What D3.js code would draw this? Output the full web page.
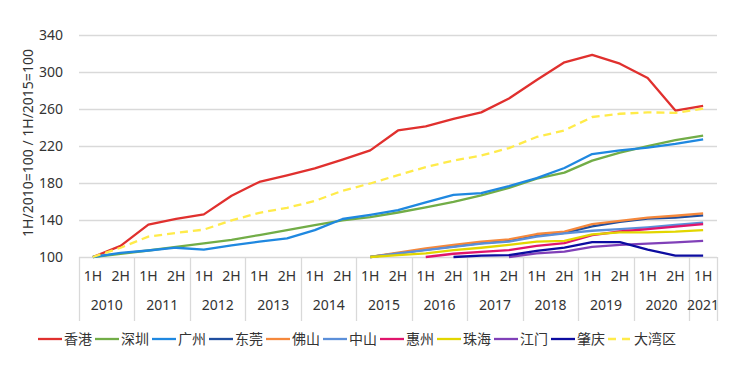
<!DOCTYPE html>
<html>
<head>
<meta charset="utf-8">
<script src="https://cdn.jsdelivr.net/npm/d3@7"></script>
<style>
  body { margin: 0; background: #fff; }
  text { font-family: "Noto Sans", "Noto Sans CJK SC", sans-serif; fill: #333; }
</style>
</head>
<body>
<div id="chart"></div>
<script>
// Data
//=================================
var years = ["2010","2011","2012","2013","2014","2015","2016","2017","2018","2019","2020","2021"];
var halves = [];
years.forEach(function(y){ halves.push(y + "-1H"); if (y !== "2021") halves.push(y + "-2H"); });

var seriesNames = ["香港","深圳","广州","东莞","佛山","中山","惠州","珠海","江门","肇庆","大湾区"];
var seriesColors = ["#e0302e","#72ad47","#1f88e0","#1f4e9f","#f5883c","#5b8fd9","#e0156c","#e2d600","#8040b8","#0c0ca0","#ffeb4a"];

var n = null;
var hongkong = [100,112,135,141,146,166,181,188,195.5,205,215,236.5,241,249,256,271,291,310,318,308.5,293,258,263];
var shenzhen = [100,103.5,107,111,114.7,118.5,123.7,129,134.5,139.5,143,148,153.5,159.5,166.5,174.5,184.5,191,204,212.5,219.5,226,231];
var guangzhou = [100,104.5,107,110,108,112.5,116.5,120,129,141,145.5,150.5,159,167,169,176.5,185,196,211,215,218,222,227];
var dongguan = [n,n,n,n,n,n,n,n,n,n,100,104,108,111.5,115,117.5,123,126,133,138,141.5,142.5,145];
var foshan = [n,n,n,n,n,n,n,n,n,n,100,104.7,109.3,113,116.5,119,124.8,127.3,135.5,139,142.5,144.5,147];
var zhongshan = [n,n,n,n,n,n,n,n,n,n,100,104,107.5,111,114.5,116.5,122,125.5,128.3,130,132,134.5,137];
var huizhou = [n,n,n,n,n,n,n,n,n,n,n,n,100,103.5,105.5,107.5,112,115,123.5,127.5,130,132.7,135.5];
var zhuhai = [n,n,n,n,n,n,n,n,n,n,100,102,104,107.5,110,113,116.5,117.5,124.5,126.5,126.5,127.3,129];
var jiangmen = [n,n,n,n,n,n,n,n,n,n,n,n,n,n,n,100,104,105.7,111,113,114.5,115.8,117.5];
var zhaoqing = [n,n,n,n,n,n,n,n,n,n,n,n,n,100,101.5,102,106.5,110,116,116,108,101.5,101.5];
var bayArea = [100,110,122,126,129.5,139.5,147.7,153,160.5,171.5,179.3,188.3,197,204,209.5,217.5,229.5,236.5,251,254.5,256,255.5,260];

var allSeries = [hongkong,shenzhen,guangzhou,dongguan,foshan,zhongshan,huizhou,zhuhai,jiangmen,zhaoqing,bayArea];
var yTicks = [100,140,180,220,260,300,340];

// Set up the chart
//=================================
var svgWidth = 740;
var svgHeight = 375;

var svg = d3.select("#chart")
  .append("svg")
  .attr("width", svgWidth)
  .attr("height", svgHeight);

var xScale = d3.scaleBand()
  .domain(halves)
  .range([79, 717]);

var yScale = d3.scaleLinear()
  .domain([100, 340])
  .range([257, 34.5]);

// gridlines + y labels
svg.append("g").selectAll("line")
  .data(yTicks)
  .enter()
  .append("line")
  .attr("x1", 79)
  .attr("x2", 717)
  .attr("y1", d => Math.round(yScale(d)) + 0.5)
  .attr("y2", d => Math.round(yScale(d)) + 0.5)
  .attr("stroke", "#d9d9d9")
  .attr("stroke-width", 1.3);

svg.append("g").selectAll("text")
  .data(yTicks)
  .enter()
  .append("text")
  .attr("x", 63)
  .attr("y", d => yScale(d) + 5)
  .attr("text-anchor", "end")
  .attr("font-size", "14px")
  .text(d => d);

svg.append("text")
  .attr("transform", "translate(33, 143) rotate(-90)")
  .attr("text-anchor", "middle")
  .attr("font-size", "14px")
  .text("1H/2010=100  / 1H/2015=100");

// x axis: halves + years with separators
//=================================
var bw = xScale.bandwidth();
var sepX = [79];
years.forEach(function(y){
  var last = y === "2021" ? y + "-1H" : y + "-2H";
  sepX.push(xScale(last) + bw);
});

svg.append("g").selectAll("line")
  .data(sepX)
  .enter()
  .append("line")
  .attr("x1", d => Math.round(d) + 0.5)
  .attr("x2", d => Math.round(d) + 0.5)
  .attr("y1", 257)
  .attr("y2", 321)
  .attr("stroke", "#d9d9d9")
  .attr("stroke-width", 1.3);

svg.append("g").selectAll("text")
  .data(halves)
  .enter()
  .append("text")
  .attr("x", d => xScale(d) + bw / 2)
  .attr("y", 281)
  .attr("text-anchor", "middle")
  .attr("font-size", "14px")
  .text(d => d.split("-")[1]);

svg.append("g").selectAll("text")
  .data(years)
  .enter()
  .append("text")
  .attr("x", function(y){
    var first = xScale(y + "-1H");
    var end = y === "2021" ? first + bw : first + 2 * bw;
    return (first + end) / 2;
  })
  .attr("y", 310)
  .attr("text-anchor", "middle")
  .attr("font-size", "14px")
  .text(d => d);

// lines
//=================================
var line = d3.line()
  .defined(d => d.v !== null)
  .x(d => xScale(d.k) + bw / 2)
  .y(d => yScale(d.v));

allSeries.forEach(function(vals, i){
  var pts = vals.map((v, j) => ({k: halves[j], v: v}));
  svg.append("path")
    .datum(pts)
    .attr("d", line)
    .attr("fill", "none")
    .attr("stroke", seriesColors[i])
    .attr("stroke-width", 2.3)
    .attr("stroke-linejoin", "round")
    .attr("stroke-dasharray", seriesNames[i] === "大湾区" ? "8,5" : null);
});

// legend
//=================================
var legend = svg.append("g");
var lx = 38;
var ly = 339;
seriesNames.forEach(function(name, i){
  legend.append("line")
    .attr("x1", lx)
    .attr("x2", lx + 24)
    .attr("y1", ly)
    .attr("y2", ly)
    .attr("stroke", seriesColors[i])
    .attr("stroke-width", 2.3)
    .attr("stroke-dasharray", name === "大湾区" ? "8,6" : null);
  var t = legend.append("text")
    .attr("x", lx + 26)
    .attr("y", ly + 5)
    .attr("font-size", "14px")
    .text(name);
  lx += 26 + t.node().getComputedTextLength() + 3;
});
</script>
</body>
</html>
